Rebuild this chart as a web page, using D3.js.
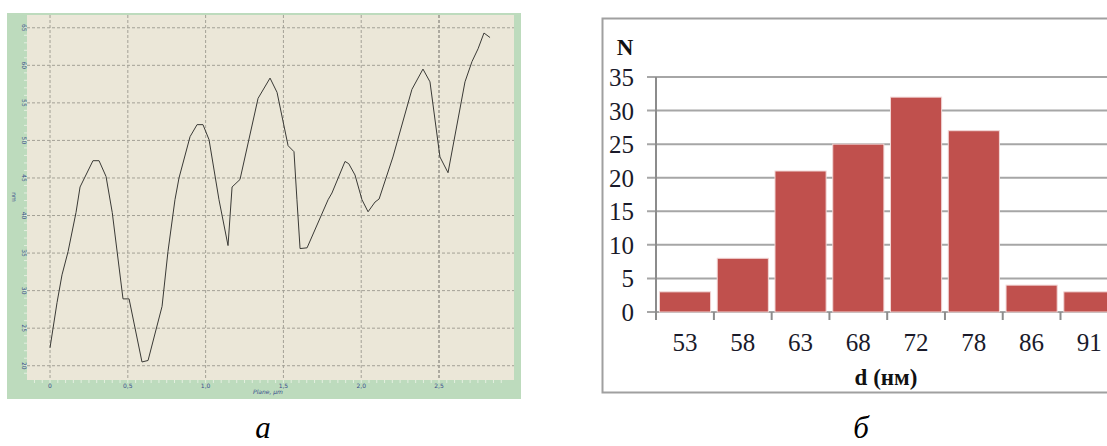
<!DOCTYPE html>
<html lang="ru">
<head>
    <meta charset="UTF-8">
    <title>Profile and size distribution</title>
    <script src="https://d3js.org/d3.v7.min.js"></script>
    <style>
        body { margin: 0; background: #fff; }
        svg { display: block; }
        .grid-a line { stroke: #a3a196; stroke-dasharray: 3,2; stroke-width: 1; }
        .tick-a { font-family: "DejaVu Sans", sans-serif; font-size: 6px; fill: #3b4d8c; }
        .grid-b line { stroke: #a6a6a6; stroke-width: 2; }
        .num-b { font-family: "Liberation Serif", serif; font-size: 25px; fill: #1a1a2a; }
        .title-b { font-family: "Liberation Serif", serif; font-size: 23px; font-weight: bold; fill: #111; }
        .caption { font-family: "Liberation Serif", serif; font-style: italic; font-size: 31px; fill: #000; }
    </style>
</head>
<body>
<svg width="1107" height="446"></svg>
<script>
    // panel a: surface profile (plane, um -> height, nm)
    const profileX = [0, 0.045, 0.077, 0.116, 0.167, 0.193, 0.276, 0.315, 0.36, 0.40,
        0.469, 0.508, 0.591, 0.63, 0.72, 0.758, 0.803, 0.829, 0.90, 0.945,
        0.983, 1.022, 1.086, 1.144, 1.17, 1.221, 1.337, 1.414, 1.459, 1.53,
        1.568, 1.587, 1.607, 1.652, 1.787, 1.812, 1.896, 1.92, 1.96, 2.005,
        2.044, 2.089, 2.115, 2.204, 2.326, 2.397, 2.442, 2.506, 2.558, 2.667,
        2.712, 2.751, 2.789, 2.828];
    const profileY = [22.4, 28.4, 32.1, 35.2, 40.4, 43.8, 47.3, 47.3, 45.2, 40.4,
        28.9, 28.9, 20.5, 20.7, 27.9, 35.2, 42.1, 45.0, 50.5, 52.1,
        52.1, 50.1, 42.1, 36.0, 43.8, 44.8, 55.6, 58.3, 56.4, 49.3,
        48.5, 42.1, 35.6, 35.7, 42.1, 43.0, 47.2, 46.9, 45.4, 42.1,
        40.5, 41.8, 42.2, 47.8, 56.8, 59.5, 57.8, 47.8, 45.7, 57.8,
        60.5, 62.2, 64.3, 63.7];
    const profileXTicks = [0, 0.5, 1.0, 1.5, 2.0, 2.5];
    const profileYTicks = [20, 25, 30, 35, 40, 45, 50, 55, 60, 65];

    // panel b: diameter histogram
    const sizes = ["53", "58", "63", "68", "72", "78", "86", "91"];
    const counts = [3, 8, 21, 25, 32, 27, 4, 3];
    const countTicks = [0, 5, 10, 15, 20, 25, 30, 35];

    const svg = d3.select("svg");

    // ---------- panel a ----------
    const a = svg.append("g");
    a.append("rect").attr("x", 7).attr("y", 13).attr("width", 514).attr("height", 386).attr("fill", "#bddbbd");
    a.append("rect").attr("x", 27).attr("y", 15).attr("width", 487).attr("height", 365).attr("fill", "#ebe7d8");

    const xA = d3.scaleLinear().domain([-0.148, 2.982]).range([27, 514]);
    const yA = d3.scaleLinear().domain([18.1, 66.7]).range([380, 15]);

    const gridA = a.append("g").attr("class", "grid-a");
    gridA.selectAll(".v").data(profileXTicks).enter().append("line")
        .attr("x1", d => xA(d)).attr("x2", d => xA(d))
        .attr("y1", 15).attr("y2", 380)
        .style("stroke", d => d === 2.5 ? "#6e6c66" : null);
    gridA.selectAll(".h").data(profileYTicks).enter().append("line")
        .attr("x1", 27).attr("x2", 514)
        .attr("y1", d => yA(d)).attr("y2", d => yA(d));

    // faint minor ticks on the plot edges
    const minorX = d3.range(-0.1, 2.95, 0.05);
    a.append("g").selectAll("line").data(minorX).enter().append("line")
        .attr("x1", d => xA(d)).attr("x2", d => xA(d))
        .attr("y1", 380).attr("y2", 383)
        .attr("stroke", "#e4efe0").attr("stroke-width", 1);
    const minorY = d3.range(19, 66, 1);
    a.append("g").selectAll("line").data(minorY).enter().append("line")
        .attr("x1", 24).attr("x2", 27)
        .attr("y1", d => yA(d)).attr("y2", d => yA(d))
        .attr("stroke", "#e4efe0").attr("stroke-width", 1);

    const fmtComma = d => d === 0 ? "0" : d3.format(".1f")(d).replace(".", ",");
    a.append("g").selectAll("text").data(profileXTicks).enter().append("text")
        .attr("class", "tick-a")
        .attr("x", d => xA(d)).attr("y", 388)
        .attr("text-anchor", "middle")
        .text(fmtComma);
    a.append("g").selectAll("text").data(profileYTicks).enter().append("text")
        .attr("class", "tick-a")
        .attr("transform", d => `translate(22,${yA(d)}) rotate(90)`)
        .attr("text-anchor", "middle")
        .text(d => d);
    a.append("text").attr("class", "tick-a")
        .attr("transform", "translate(12,197) rotate(90)")
        .attr("text-anchor", "middle").text("nm");
    a.append("text").attr("class", "tick-a")
        .attr("x", 268).attr("y", 394).attr("text-anchor", "middle")
        .style("font-style", "italic").text("Plane, µm");

    const lineA = d3.line().x((d, i) => xA(profileX[i])).y(d => yA(d));
    a.append("path").datum(profileY)
        .attr("d", lineA)
        .attr("fill", "none")
        .attr("stroke", "#3a3a36")
        .attr("stroke-width", 1);

    // ---------- panel b ----------
    const b = svg.append("g");
    b.append("path")
        .attr("d", "M1110,18.5 H602.5 V392.5 H1110")
        .attr("fill", "none").attr("stroke", "#a0a0a0").attr("stroke-width", 2);

    const xB = d3.scaleBand().domain(sizes).range([656, 656 + 57.8 * sizes.length]).paddingInner(0.115).paddingOuter(0.06);
    const yB = d3.scaleLinear().domain([0, 35]).range([312, 77]);

    b.append("g").attr("class", "grid-b").selectAll("line").data(countTicks).enter().append("line")
        .attr("x1", 647).attr("x2", 1107)
        .attr("y1", d => yB(d)).attr("y2", d => yB(d));

    b.selectAll(".bar").data(counts).enter().append("rect")
        .attr("x", (d, i) => xB(sizes[i]))
        .attr("y", d => yB(d))
        .attr("width", xB.bandwidth())
        .attr("height", d => yB(0) - yB(d))
        .attr("fill", "#c0504d")
        .attr("stroke", "#f2d6d5").attr("stroke-width", 1);

    // y axis line and category ticks
    b.append("line").attr("x1", 656).attr("x2", 656).attr("y1", 77).attr("y2", 320)
        .attr("stroke", "#8c8c8c").attr("stroke-width", 2);
    const boundary = d => xB(d) - xB.step() * xB.paddingInner() / 2 + xB.step();
    b.append("g").selectAll("line").data(sizes).enter().append("line")
        .attr("x1", boundary).attr("x2", boundary)
        .attr("y1", 312).attr("y2", 320)
        .attr("stroke", "#8c8c8c").attr("stroke-width", 2);

    b.append("g").selectAll("text").data(countTicks).enter().append("text")
        .attr("class", "num-b")
        .attr("x", 634).attr("y", d => yB(d) + 9)
        .attr("text-anchor", "end").text(d => d);
    b.append("g").selectAll("text").data(sizes).enter().append("text")
        .attr("class", "num-b")
        .attr("x", d => xB(d) + xB.bandwidth() / 2).attr("y", 351)
        .attr("text-anchor", "middle").text(d => d);

    b.append("text").attr("class", "title-b").attr("x", 625).attr("y", 55)
        .attr("text-anchor", "middle").text("N");
    b.append("text").attr("class", "title-b").attr("x", 886).attr("y", 385)
        .attr("text-anchor", "middle").text("d (нм)");

    // captions
    svg.append("text").attr("class", "caption").attr("x", 263).attr("y", 438)
        .attr("text-anchor", "middle").text("а");
    svg.append("text").attr("class", "caption").attr("x", 861).attr("y", 438)
        .attr("text-anchor", "middle").text("б");
</script>
</body>
</html>
